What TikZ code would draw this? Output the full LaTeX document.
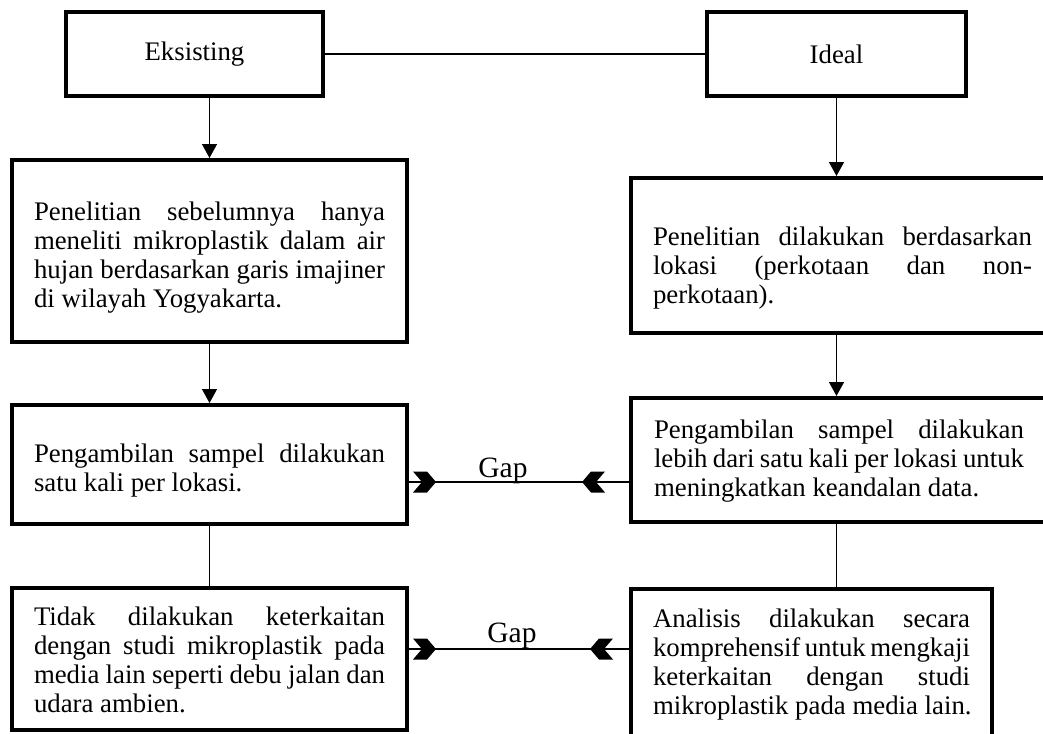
\documentclass[tikz,border=0pt]{standalone}
\usepackage{fontspec}
\setmainfont{Liberation Serif}
\usetikzlibrary{arrows.meta}
\newcommand\jl[2]{\makebox[#1][s]{#2}}
\newcommand\fs[1]{\rule{0pt}{#1}}
\begin{document}
\begin{tikzpicture}[x=1pt,y=-1pt,
  box/.style={draw=black,line width=4pt,rectangle,inner sep=0pt,fill=white,
    align=left,font=\fontsize{26.8}{29}\selectfont},
  ln/.style={draw=black,line width=1.4pt},
  arr/.style={ln,-{Triangle[length=14pt,width=15pt]}},
  chev/.style={fill=black},
  gapl/.style={font=\fontsize{29.5}{32}\selectfont,inner sep=0pt}]
\useasboundingbox (0,0) rectangle (1043,733);
\clip (0,0) rectangle (1043,733);
% top boxes
\node[box,align=center,minimum width=257pt,minimum height=84pt] (E) at (194.5,54) {Eksisting};
\node[box,align=center,minimum width=259pt,minimum height=84pt] (I) at (836.5,54) {Ideal};
% left column
\node[box,minimum width=395pt,minimum height=182pt] (L1) at (209.5,251)
 {\fs{30.8pt}\jl{351pt}{Penelitian sebelumnya hanya}\\
  \jl{351pt}{meneliti mikroplastik dalam air}\\
  \jl{351pt}{hujan berdasarkan garis imajiner}\\
  \makebox[351pt][l]{di wilayah Yogyakarta.}};
\node[box,minimum width=395pt,minimum height=119pt] (L2) at (209.5,464.5)
 {\fs{29.8pt}\jl{351pt}{Pengambilan sampel dilakukan}\\
  \makebox[351pt][l]{satu kali per lokasi.}};
\node[box,minimum width=395pt,minimum height=142pt] (L3) at (209.5,659)
 {\fs{21pt}\jl{351pt}{Tidak dilakukan keterkaitan}\\
  \jl{351pt}{dengan studi mikroplastik pada}\\
  \jl{351pt}{media lain seperti debu jalan dan}\\
  \makebox[351pt][l]{udara ambien.}};
% right column
\node[box,minimum width=423pt,minimum height=155pt] (R1) at (842.5,255.5)
 {\fs{42.8pt}\jl{379pt}{Penelitian dilakukan berdasarkan}\\
  \jl{379pt}{lokasi (perkotaan dan non-}\\
  \makebox[379pt][l]{perkotaan).}};
\node[box,minimum width=416pt,minimum height=124pt] (R2) at (839,460)
 {\fs{19.8pt}\jl{370pt}{Pengambilan sampel dilakukan}\\
  \jl{370pt}{lebih dari satu kali per lokasi untuk}\\
  \makebox[370pt][l]{meningkatkan keandalan data.}};
\node[box,minimum width=361pt,minimum height=151pt] (R3) at (811.5,664.5)
 {\jl{317pt}{Analisis dilakukan secara}\\
  \jl{317pt}{komprehensif untuk mengkaji}\\
  \jl{317pt}{keterkaitan dengan studi}\\
  \makebox[317pt][l]{mikroplastik pada media lain.}};
% connectors
\draw[ln] (E.east) -- (I.west);
\draw[arr] (L1.north |- E.south) -- (L1.north);
\draw[arr] (I.south) -- (I.south |- R1.north);
\draw[arr] (L1.south) -- (L2.north);
\draw[arr] (I.south |- R1.south) -- (I.south |- R2.north);
\draw[ln] (L2.south) -- (L3.north);
\draw[ln] (I.south |- R2.south) -- (I.south |- R3.north);
\coordinate (g1) at (0,482);
\coordinate (g2) at (0,649);
\draw[ln] (L2.east |- g1) -- (R2.west |- g1);
\draw[ln] (L3.east |- g2) -- (R3.west |- g2);
% chevron heads
\path (L2.east |- g1) ++(4,0) coordinate (c1);
\path (R2.west |- g1) ++(-24,0) coordinate (c2);
\path (L3.east |- g2) ++(4,0) coordinate (c3);
\path (R3.west |- g2) ++(-16,0) coordinate (c4);
\fill[chev] (c1) ++(0,-10.5) -- ++(14,0) -- ++(9,10.5) -- ++(-9,10.5) -- ++(-14,0) -- ++(9,-10.5) -- cycle;
\fill[chev] (c3) ++(0,-10.5) -- ++(14,0) -- ++(9,10.5) -- ++(-9,10.5) -- ++(-14,0) -- ++(9,-10.5) -- cycle;
\fill[chev] (c2) ++(0,-10.5) -- ++(-14,0) -- ++(-9,10.5) -- ++(9,10.5) -- ++(14,0) -- ++(-9,-10.5) -- cycle;
\fill[chev] (c4) ++(0,-10.5) -- ++(-14,0) -- ++(-9,10.5) -- ++(9,10.5) -- ++(14,0) -- ++(-9,-10.5) -- cycle;
\node[gapl,anchor=base] (gp1) at (503,477) {Gap};
\node[gapl,anchor=base] (gp2) at (512,642) {Gap};
\end{tikzpicture}
\end{document}
